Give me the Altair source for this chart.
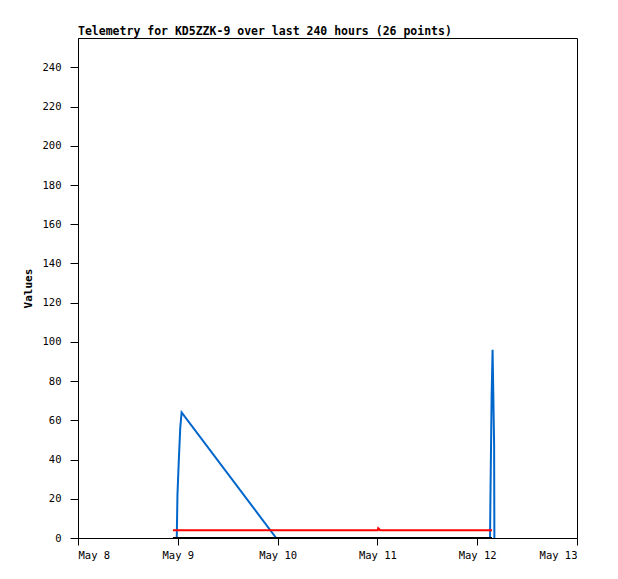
import altair as alt
import pandas as pd

# Blue series (main telemetry value)
blue_t = ["2025-05-08T22:50:00Z", "2025-05-08T23:45:00Z", "2025-05-08T23:55:00Z",
          "2025-05-09T00:15:00Z", "2025-05-09T00:35:00Z", "2025-05-09T00:55:00Z",
          "2025-05-09T23:40:00Z", "2025-05-11T00:20:00Z", "2025-05-12T03:05:00Z",
          "2025-05-12T03:12:00Z", "2025-05-12T03:28:00Z", "2025-05-12T03:42:00Z",
          "2025-05-12T04:04:00Z", "2025-05-12T04:08:00Z"]
blue_v = [0, 0, 22, 40, 56, 64, 0, 0, 0, 24, 72, 96, 48, 0]

# Red series
red_t = ["2025-05-08T22:50:00Z", "2025-05-11T00:05:00Z", "2025-05-11T00:12:00Z",
         "2025-05-11T00:40:00Z", "2025-05-12T03:33:00Z"]
red_v = [4, 4, 5, 4, 4]

# Black series
black_t = ["2025-05-08T22:50:00Z", "2025-05-12T03:33:00Z"]
black_v = [0, 0]

title_text = "Telemetry for KD5ZZK-9 over last 240 hours (26 points)"
x_domain = ["2025-05-08T00:00:00Z", "2025-05-13T00:00:00Z"]
y_domain = [0, 255]

FONT = "DejaVu Sans Mono"

df_blue = pd.DataFrame({"t": blue_t, "v": blue_v})
df_red = pd.DataFrame({"t": red_t, "v": red_v})
df_black = pd.DataFrame({"t": black_t, "v": black_v})

x_enc = alt.X(
    "t:T",
    scale=alt.Scale(type="utc", domain=x_domain),
    axis=alt.Axis(
        title=None, grid=False, tickCount={"interval": "day", "step": 1},
        labelExpr="utcFormat(datum.value, '%b %-d')",
        tickSize=7, labelPadding=5, labelFont=FONT, labelFontSize=10.5,
        labelColor="#000000", tickColor="#000000", domainColor="#000000",
    ),
)
y_enc = alt.Y(
    "v:Q",
    scale=alt.Scale(domain=y_domain, nice=False, zero=True),
    axis=alt.Axis(
        title="Values", grid=False, values=list(range(0, 241, 20)),
        tickSize=8, labelPadding=9, labelFont=FONT, labelFontSize=10.5,
        titleFont=FONT, titleFontSize=11, titleFontWeight="bold",
        titlePadding=9, labelColor="#000000", tickColor="#000000",
        domainColor="#000000", titleColor="#000000",
    ),
)

blue = alt.Chart(df_blue).mark_line(color="#0066cc", strokeWidth=2, interpolate="linear").encode(x=x_enc, y=y_enc)
red = alt.Chart(df_red).mark_line(color="#ff0000", strokeWidth=2).encode(x=x_enc, y=y_enc)
black = alt.Chart(df_black).mark_line(color="#000000", strokeWidth=2).encode(x=x_enc, y=y_enc)

chart = alt.layer(blue, red, black).properties(
    width=499, height=500,
    title=alt.TitleParams(title_text, anchor="start", frame="group", font=FONT,
                          fontSize=11.5, fontWeight="bold", color="#000000", offset=1),
    autosize=alt.AutoSizeParams(type="none"),
    padding={"left": 70, "top": 30, "right": 33, "bottom": 33},
    background="#ffffff",
).configure_view(stroke="#000000", strokeWidth=1)

chart.save("out.html", embed_options={"renderer": "svg", "actions": False})
